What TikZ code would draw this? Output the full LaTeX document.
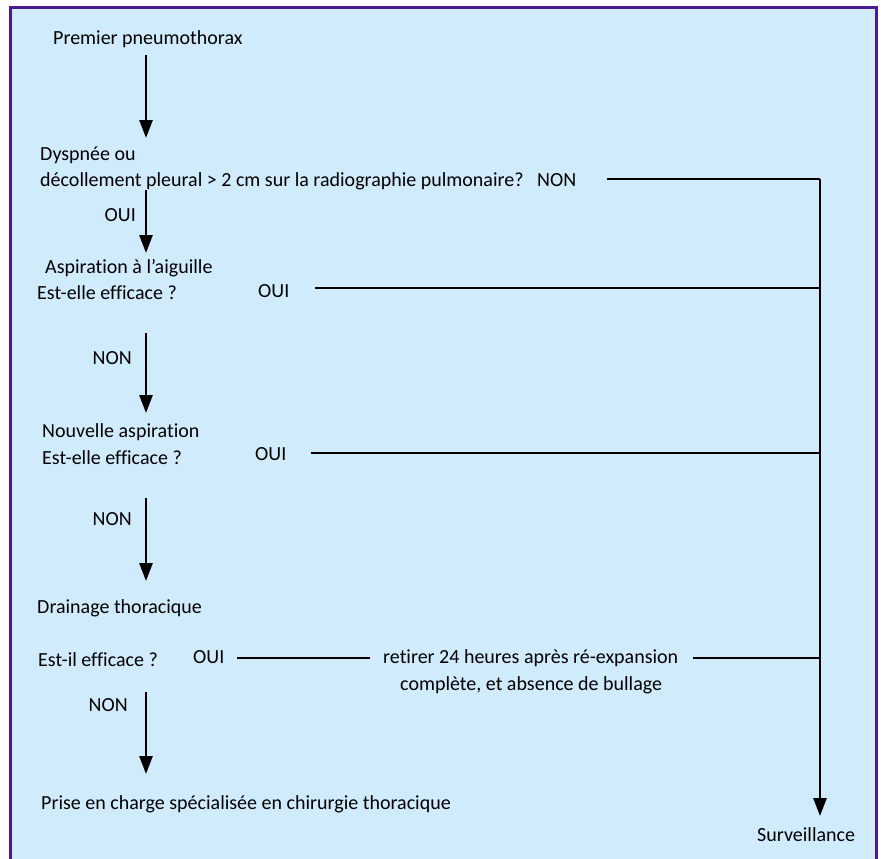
\documentclass[tikz,border=0pt]{standalone}
\usepackage{fontspec}
\setmainfont{Carlito}[Ligatures={NoCommon}]
\usetikzlibrary{arrows.meta}
\definecolor{bgblue}{HTML}{D0EBFC}
\definecolor{frame}{HTML}{4B1A8C}
\tikzset{
  lbl/.style={anchor=base west, inner sep=0pt, font=\fontsize{20}{24}\selectfont, text=black},
  lble/.style={lbl, anchor=base east},
  arr/.style={line width=2.7pt, -{Triangle[width=13pt,length=18pt]}},
  hline/.style={line width=2pt},
}
\begin{document}
\begin{tikzpicture}[x=1pt,y=-1pt]
\useasboundingbox (0,0) rectangle (881,859);
\clip (0,0) rectangle (881,859);
\fill[white] (0,0) rectangle (881,859);
\draw[fill=bgblue, draw=frame, line width=3pt] (10.5,7.5) rectangle (876.5,880);

\node[lbl] (premier) at (53,45) {Premier pneumothorax};
\node[lbl] (dys1) at (40,160) {Dyspnée ou};
\node[lbl] (dys2) at (40,186) {décollement pleural > 2 cm sur la radiographie pulmonaire?};
\node[lbl] (non0) at (537,186) {NON};
\node[lble] (oui0) at (136,221) {OUI};
\node[lbl] (asp1) at (45,273) {Aspiration à l’aiguille};
\node[lbl] (asp2) at (37,299) {Est-elle efficace ?};
\node[lbl] (oui1) at (258,297) {OUI};
\node[lble] (non1) at (132,364) {NON};
\node[lbl] (nouv1) at (42,437) {Nouvelle aspiration};
\node[lbl] (nouv2) at (42,464) {Est-elle efficace ?};
\node[lbl] (oui2) at (255,460) {OUI};
\node[lble] (non2) at (132,525) {NON};
\node[lbl] (drain1) at (37,613) {Drainage thoracique};
\node[lbl] (drain2) at (38,666) {Est-il efficace ?};
\node[lbl] (oui3) at (193,663) {OUI};
\node[lbl] (retirer) at (383,663) {retirer 24 heures après ré-expansion};
\node[lbl] (complete) at (400,690) {complète, et absence de bullage};
\node[lble] (non3) at (128,711) {NON};
\node[lbl] (prise) at (41,809) {Prise en charge spécialisée en chirurgie thoracique};
\node[lbl] (surv) at (757,841) {Surveillance};

% coordinates for connectors
\coordinate (a1s) at (146,55);  \coordinate (a1e) at (146,138);
\coordinate (a2s) at (146,190); \coordinate (a2e) at (146,253);
\coordinate (a3s) at (146,333); \coordinate (a3e) at (146,413);
\coordinate (a4s) at (146,498); \coordinate (a4e) at (146,581);
\coordinate (a5s) at (146,692); \coordinate (a5e) at (146,774);
\coordinate (v0) at (820,179);  \coordinate (v1) at (820,816);
\coordinate (h0) at (607,179);
\coordinate (h1s) at (315,288); \coordinate (h1e) at (820,288);
\coordinate (h2s) at (311,453); \coordinate (h2e) at (820,453);
\coordinate (h3s) at (237,658); \coordinate (h3m) at (370,658);
\coordinate (h3n) at (693,658); \coordinate (h3e) at (820,658);

\draw[arr] (a1s) -- (a1e);
\draw[arr] (a2s) -- (a2e);
\draw[arr] (a3s) -- (a3e);
\draw[arr] (a4s) -- (a4e);
\draw[arr] (a5s) -- (a5e);
\draw[hline] (h0) -- (v0);
\draw[arr] (v0) -- (v1);
\draw[hline] (h1s) -- (h1e);
\draw[hline] (h2s) -- (h2e);
\draw[hline] (h3s) -- (h3m);
\draw[hline] (h3n) -- (h3e);
\end{tikzpicture}
\end{document}
